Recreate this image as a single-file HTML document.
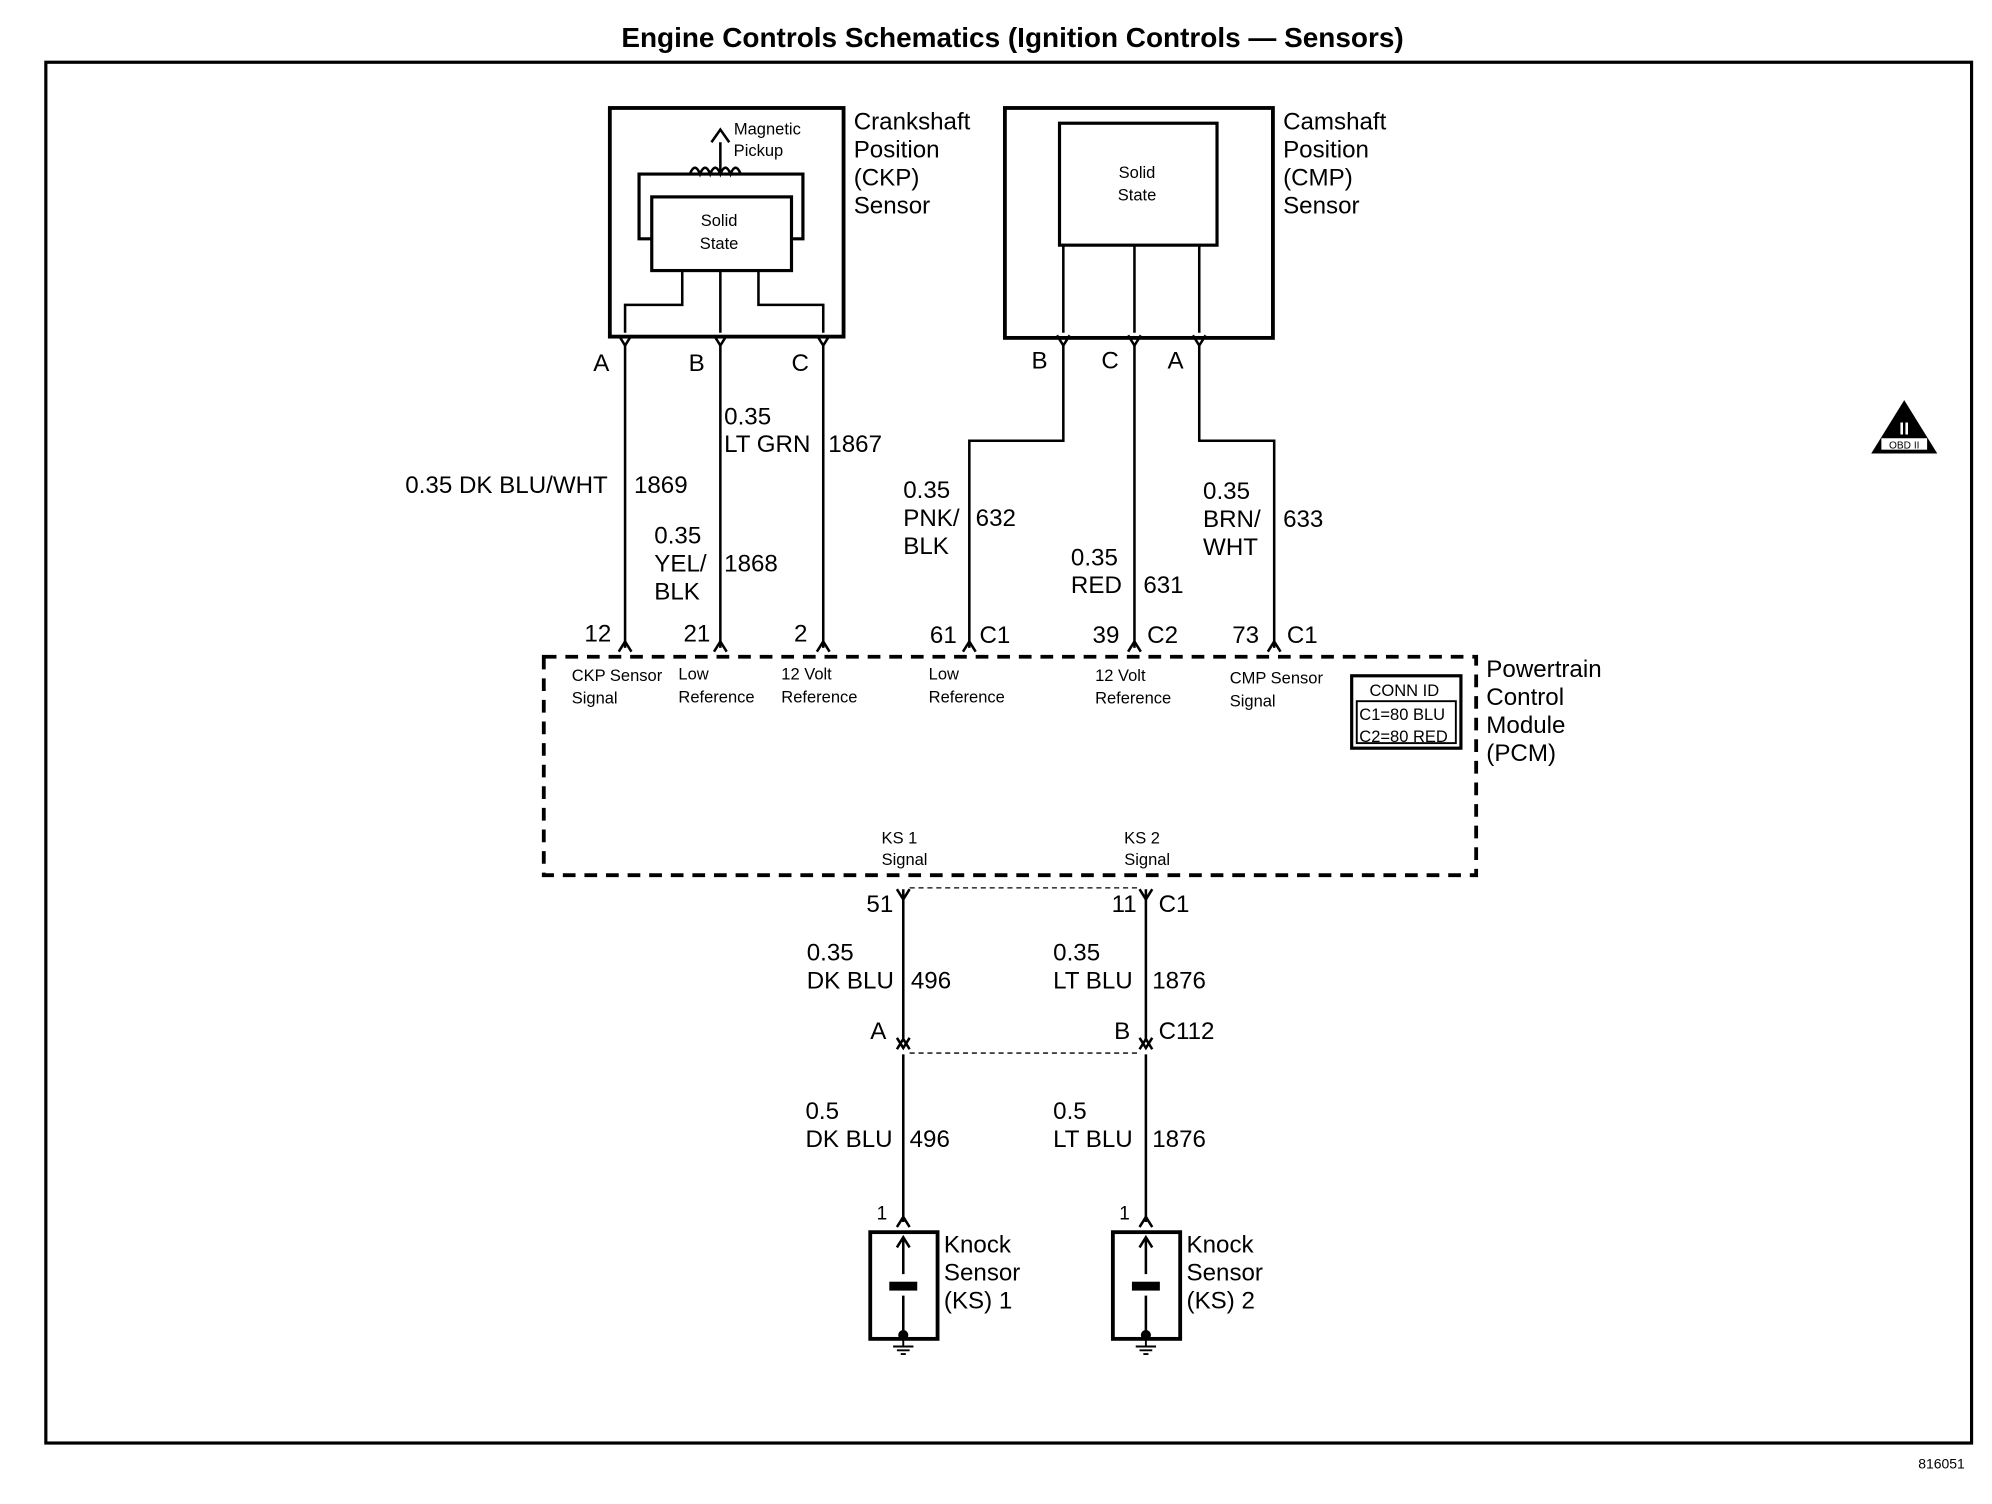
<!DOCTYPE html>
<html><head><style>html,body{margin:0;padding:0;background:#fff}svg{display:block}</style></head><body>
<svg width="1992" height="1504" viewBox="0 0 1568 1184" xmlns="http://www.w3.org/2000/svg" font-family="Liberation Sans, Arial, sans-serif" fill="#000">
<defs>
<g id="fk"><path d="M-5,-8 L0,0 L5,-8" fill="none" stroke="#000" stroke-width="2"/></g>
<g id="fu"><path d="M-5,8 L0,0 L5,8" fill="none" stroke="#000" stroke-width="2"/></g>
</defs>
<text x="797" y="37" font-size="22" font-weight="bold" text-anchor="middle">Engine Controls Schematics (Ignition Controls — Sensors)</text>
<rect x="36" y="49" width="1516" height="1087" fill="none" stroke="#000" stroke-width="2.5"/>
<g fill="none" stroke="#000">
<!-- CKP -->
<rect x="480" y="85" width="184" height="180" stroke-width="3"/>
<rect x="513" y="155" width="110" height="58" stroke-width="2.5"/>
<path d="M513,188 H503 V137 H632 V188 H623" stroke-width="2.5"/>
<path d="M567,137 V112 M560,112 L567,102 L574,112" stroke-width="2"/>
<path d="M543,137 q4,-10 8,0 q4,-10 8,0 q4,-10 8,0 q4,-10 8,0 q4,-10 8,0" stroke-width="2"/>
<path d="M537,213 V240 H492 V262 M567,213 V262 M597,213 V240 H648 V262" stroke-width="2"/>
<!-- CMP -->
<rect x="791" y="85" width="211" height="181" stroke-width="3"/>
<rect x="834" y="97" width="124" height="96" stroke-width="2.5"/>
<path d="M837,193 V262 M893,193 V262 M944,193 V262" stroke-width="2"/>
<!-- wires top -->
<path d="M492,272 V510 M567,272 V510 M648,272 V510 M837,272 V347 H763 V510 M893,272 V510 M944,272 V347 H1003 V510" stroke-width="2"/>
<!-- PCM -->
<rect x="428" y="517" width="734" height="172" stroke-width="3" stroke-dasharray="10,7"/>
<rect x="1064" y="532" width="86" height="57" stroke-width="2.5"/>
<rect x="1068" y="552" width="78" height="33" stroke-width="1.5"/>
<!-- KS -->
<path d="M711,700 V820 M711,830 V962 M902,700 V820 M902,830 V962" stroke-width="2"/>
<path d="M716,699 H898 M716,829 H898" stroke-width="1" stroke-dasharray="4,3"/>
<rect x="685" y="970" width="53" height="84" stroke-width="3"/>
<rect x="876" y="970" width="53" height="84" stroke-width="3"/>
<path d="M711,975 V1003 M711,1020 V1050 M902,975 V1003 M902,1020 V1050 M706,982 L711,974 L716,982 M897,982 L902,974 L907,982" stroke-width="2"/>
<path d="M711,1054 V1060 M703,1060 H719 M706,1063 H716 M709,1066 H713 M902,1054 V1060 M894,1060 H910 M897,1063 H907 M900,1066 H904" stroke-width="1.5"/>
</g>
<rect x="700" y="1009" width="22" height="7"/><rect x="891" y="1009" width="22" height="7"/>
<circle cx="711" cy="1051" r="4"/><circle cx="902" cy="1051" r="4"/>
<!-- connector forks -->
<use href="#fk" x="492" y="272"/><use href="#fk" x="567" y="272"/><use href="#fk" x="648" y="272"/>
<use href="#fk" x="837" y="272"/><use href="#fk" x="893" y="272"/><use href="#fk" x="944" y="272"/>
<use href="#fu" x="492" y="505"/><use href="#fu" x="567" y="505"/><use href="#fu" x="648" y="505"/>
<use href="#fu" x="763" y="505"/><use href="#fu" x="893" y="505"/><use href="#fu" x="1003" y="505"/>
<use href="#fk" x="711" y="708"/><use href="#fk" x="902" y="708"/>
<use href="#fu" x="711" y="818"/><use href="#fu" x="902" y="818"/>
<use href="#fk" x="711" y="825"/><use href="#fk" x="902" y="825"/>
<use href="#fu" x="711" y="958"/><use href="#fu" x="902" y="958"/>
<!-- small text -->
<g font-size="13" text-anchor="middle">
<text x="604" y="106">Magnetic</text><text x="597" y="123">Pickup</text>
<text x="566" y="178">Solid</text><text x="566" y="196">State</text>
<text x="895" y="140">Solid</text><text x="895" y="158">State</text>
<text x="708" y="664">KS 1</text><text x="712" y="681">Signal</text>
<text x="899" y="664">KS 2</text><text x="903" y="681">Signal</text>
</g>
<g font-size="13">
<text x="450" y="536">CKP Sensor</text><text x="450" y="554">Signal</text>
<text x="534" y="535">Low</text><text x="534" y="553">Reference</text>
<text x="615" y="535">12 Volt</text><text x="615" y="553">Reference</text>
<text x="731" y="535">Low</text><text x="731" y="553">Reference</text>
<text x="862" y="536">12 Volt</text><text x="862" y="554">Reference</text>
<text x="968" y="538">CMP Sensor</text><text x="968" y="556">Signal</text>
<text x="1078" y="548">CONN ID</text>
<text x="1070" y="567">C1=80 BLU</text><text x="1070" y="584">C2=80 RED</text>
<text x="1510" y="1156" font-size="11">816051</text>
</g>
<!-- large labels -->
<g font-size="19">
<text x="672" y="102">Crankshaft</text><text x="672" y="124">Position</text><text x="672" y="146">(CKP)</text><text x="672" y="168">Sensor</text>
<text x="1010" y="102">Camshaft</text><text x="1010" y="124">Position</text><text x="1010" y="146">(CMP)</text><text x="1010" y="168">Sensor</text>
<text x="467" y="292">A</text><text x="542" y="292">B</text><text x="623" y="292">C</text>
<text x="812" y="290">B</text><text x="867" y="290">C</text><text x="919" y="290">A</text>
<text x="570" y="334">0.35</text><text x="570" y="356">LT GRN</text><text x="652" y="356">1867</text>
<text x="319" y="388">0.35 DK BLU/WHT</text><text x="499" y="388">1869</text>
<text x="515" y="428">0.35</text><text x="515" y="450">YEL/</text><text x="515" y="472">BLK</text><text x="570" y="450">1868</text>
<text x="711" y="392">0.35</text><text x="711" y="414">PNK/</text><text x="711" y="436">BLK</text><text x="768" y="414">632</text>
<text x="843" y="445">0.35</text><text x="843" y="467">RED</text><text x="900" y="467">631</text>
<text x="947" y="393">0.35</text><text x="947" y="415">BRN/</text><text x="947" y="437">WHT</text><text x="1010" y="415">633</text>
<text x="460" y="505">12</text><text x="538" y="505">21</text><text x="625" y="505">2</text>
<text x="732" y="506">61</text><text x="771" y="506">C1</text>
<text x="860" y="506">39</text><text x="903" y="506">C2</text>
<text x="970" y="506">73</text><text x="1013" y="506">C1</text>
<text x="1170" y="533">Powertrain</text><text x="1170" y="555">Control</text><text x="1170" y="577">Module</text><text x="1170" y="599">(PCM)</text>
<text x="682" y="718">51</text><text x="875" y="718">11</text><text x="912" y="718">C1</text>
<text x="635" y="756">0.35</text><text x="635" y="778">DK BLU</text><text x="717" y="778">496</text>
<text x="829" y="756">0.35</text><text x="829" y="778">LT BLU</text><text x="907" y="778">1876</text>
<text x="685" y="818">A</text><text x="877" y="818">B</text><text x="912" y="818">C112</text>
<text x="634" y="881">0.5</text><text x="634" y="903">DK BLU</text><text x="716" y="903">496</text>
<text x="829" y="881">0.5</text><text x="829" y="903">LT BLU</text><text x="907" y="903">1876</text>
<text x="690" y="960" font-size="15">1</text><text x="881" y="960" font-size="15">1</text>
<text x="743" y="986">Knock</text><text x="743" y="1008">Sensor</text><text x="743" y="1030">(KS) 1</text>
<text x="934" y="986">Knock</text><text x="934" y="1008">Sensor</text><text x="934" y="1030">(KS) 2</text>
</g>
<!-- OBD II -->
<path d="M1499,315 L1525,357 L1473,357 Z"/>
<text x="1499" y="342" font-size="14" fill="#fff" text-anchor="middle" font-weight="bold">II</text>
<rect x="1481" y="345" width="36" height="9" fill="#fff"/>
<text x="1499" y="353" font-size="8" text-anchor="middle">OBD II</text>
</svg>
</body></html>
